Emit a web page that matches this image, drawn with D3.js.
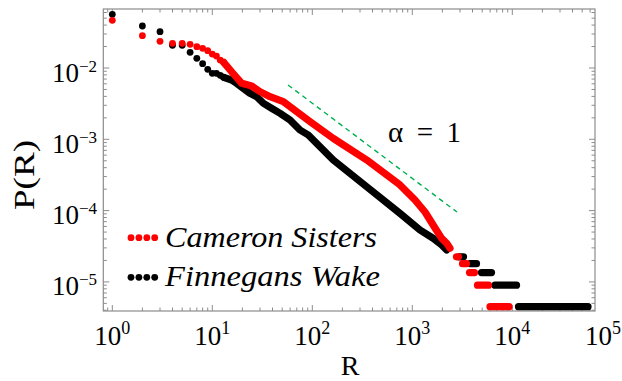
<!DOCTYPE html>
<html><head><meta charset="utf-8">
<script src="https://cdn.jsdelivr.net/npm/d3@7"></script>
<style>
body{margin:0;background:#fff}svg{display:block}
text{font-family:"Liberation Serif","Times New Roman","DejaVu Serif",serif;}
</style>
</head><body><svg id="c" width="622" height="381"></svg>
<script>
const seriesNames = ["Cameron Sisters", "Finnegans Wake"];
const seriesColors = ["#ff0000", "#000000"];

// Cameron Sisters (red)
const csTopRank = [1,2,3,4,5,6,7,8,9,10,11,12,13];
const csTopProb = [0.0467,0.0284,0.0237,0.0222,0.0222,0.0215,0.0199,0.0189,0.0175,0.0157,0.0147,0.0129,0.0120];
const csBandRank = [15.6,19.7,24.8,30,37.8,51.3,69.8,94.9,162,350,753,1064,1340,1687,1968,2208,2382];
const csBandProb = [8.87e-3,6.10e-3,5.59e-3,4.66e-3,3.96e-3,3.37e-3,2.44e-3,1.77e-3,1.03e-3,5.13e-4,2.29e-4,1.41e-4,9.56e-5,5.70e-5,4.08e-5,3.48e-5,2.96e-5];
const csRunProb = [2.25e-5,1.8e-5,1.35e-5,9.0e-6,4.5e-6];
const csRunFrom = [2767,3177,3733,4487,5984];
const csRunTo   = [2897,3483,4188,5781,9274];

// Finnegans Wake (black)
const fwTopRank = [1,2,3,4,5,6,7,8,9,10,11,12,13];
const fwTopProb = [0.0566,0.0388,0.0323,0.0208,0.0208,0.0166,0.01368,0.01149,9.59e-3,8.43e-3,8.43e-3,7.90e-3,7.41e-3];
const fwBandRank = [15.6,17.5,20.4,23.8,27.8,32.4,39.3,47.5,59.8,75.3,91.2,162,350,753,1194,1622,1968,2208];
const fwBandProb = [6.79e-3,6.10e-3,5.19e-3,4.41e-3,3.96e-3,3.20e-3,2.72e-3,2.32e-3,1.87e-3,1.35e-3,1.15e-3,5.13e-4,2.16e-4,9.16e-5,5.35e-5,4.08e-5,3.30e-5,2.80e-5];
const fwRunProb = [2.25e-5,1.8e-5,1.35e-5,9.0e-6,4.5e-6];
const fwRunFrom = [2931,3776,4920,6714,11530];
const fwRunTo   = [3251,4385,6194,11015,57150];

// reference power law (alpha = 1)
const refRank = [57.2, 2799];
const refProb = [5.78e-3, 9.55e-5];
const refLabel = "α = 1";

const xTickValues = [1,10,100,1000,10000,100000];
const xTickExps = ["0","1","2","3","4","5"];
const yTickValues = [1e-5,1e-4,1e-3,1e-2];
const yTickExps = ["−5","−4","−3","−2"];
const xTitle = "R", yTitle = "P(R)";

const svg = d3.select("#c");
const L = 103.3, Rgt = 595, T = 9, B = 311;
const x = d3.scaleLog().domain([Math.pow(10,-0.09), Math.pow(10,4.827)]).range([L, Rgt]);
const y = d3.scaleLog().domain([Math.pow(10,-5.408), Math.pow(10,-1.1725)]).range([B, T]);
const frameCol = "#8c8c8c";
const rad = 3.4, bandW = 7.2;

// frame
svg.append("rect").attr("x",L).attr("y",T).attr("width",Rgt-L).attr("height",B-T)
  .attr("fill","none").attr("stroke",frameCol).attr("stroke-width",1.2);

// ticks
const tickG = svg.append("g").attr("stroke",frameCol).attr("stroke-width",1);
function logTicks(dom){
  const out=[]; const lo=Math.floor(Math.log10(dom[0])), hi=Math.ceil(Math.log10(dom[1]));
  for(let e=lo;e<=hi;e++) for(let k=1;k<=9;k++){const v=k*Math.pow(10,e); if(v>=dom[0]&&v<=dom[1]) out.push({v,major:k===1});}
  return out;
}
logTicks(x.domain()).forEach(t=>{
  const len = t.major?6:3.5, px=x(t.v);
  tickG.append("line").attr("x1",px).attr("x2",px).attr("y1",B).attr("y2",B-len);
  tickG.append("line").attr("x1",px).attr("x2",px).attr("y1",T).attr("y2",T+len);
});
logTicks(y.domain()).forEach(t=>{
  const len = t.major?6:3.5, py=y(t.v);
  tickG.append("line").attr("y1",py).attr("y2",py).attr("x1",L).attr("x2",L+len);
  tickG.append("line").attr("y1",py).attr("y2",py).attr("x1",Rgt).attr("x2",Rgt-len);
});

// tick labels
xTickValues.forEach((v,i)=>{
  const px = Math.min(x(v), Rgt+8);
  const t = svg.append("text").attr("x",px).attr("y",345).attr("text-anchor","middle")
    .attr("font-size",27).attr("fill","#000");
  t.append("tspan").text("10");
  t.append("tspan").attr("dy",-11).attr("font-size",18).text(xTickExps[i]);
});
yTickValues.forEach((v,i)=>{
  const t = svg.append("text").attr("x",97).attr("y",y(v)+13.5).attr("text-anchor","end")
    .attr("font-size",27).attr("fill","#000");
  t.append("tspan").text("10");
  t.append("tspan").attr("dy",-10).attr("font-size",17).text(yTickExps[i]);
});

// axis titles
svg.append("text").attr("x",350).attr("y",375).attr("text-anchor","middle")
  .attr("font-size",28).text(xTitle);
svg.append("text").attr("transform","translate(34,175) rotate(-90)").attr("text-anchor","middle")
  .attr("font-size",30).attr("textLength",70).attr("lengthAdjust","spacingAndGlyphs").text(yTitle);

// reference line
const line = d3.line().x(d=>x(d[0])).y(d=>y(d[1]));
svg.append("path").datum(d3.zip(refRank, refProb)).attr("d",line)
  .attr("stroke","#00b050").attr("stroke-width",1.4).attr("stroke-dasharray","5,4").attr("fill","none");
svg.append("text").attr("x",388).attr("y",141.5).attr("font-size",29)
  .attr("textLength",73).attr("lengthAdjust","spacing").text(refLabel);

// series
const plot = svg.append("g");
function drawSeries(topR, topP, bandR, bandP, runP, runF, runT, col){
  const g = plot.append("g");
  const band = [[topR[topR.length-1], topP[topP.length-1]]].concat(d3.zip(bandR, bandP));
  g.append("path").datum(band).attr("d",line).attr("fill","none").attr("stroke",col)
    .attr("stroke-width",bandW).attr("stroke-linejoin","round").attr("stroke-linecap","round");
  g.selectAll("circle.top").data(d3.zip(topR, topP)).join("circle").attr("class","top")
    .attr("cx",d=>x(d[0])).attr("cy",d=>y(d[1])).attr("r",rad).attr("fill",col);
  g.selectAll("line.run").data(d3.zip(runP, runF, runT)).join("line").attr("class","run")
    .attr("x1",d=>x(d[1])).attr("x2",d=>x(d[2])).attr("y1",d=>y(d[0])).attr("y2",d=>y(d[0]))
    .attr("stroke",col).attr("stroke-width",bandW).attr("stroke-linecap","round");
}
drawSeries(fwTopRank, fwTopProb, fwBandRank, fwBandProb, fwRunProb, fwRunFrom, fwRunTo, seriesColors[1]);
drawSeries(csTopRank, csTopProb, csBandRank, csBandProb, csRunProb, csRunFrom, csRunTo, seriesColors[0]);

// legend
const legY = [237.7, 277.3], legBase = [246.7, 286];
seriesNames.forEach((n,i)=>{
  for(let k=0;k<4;k++) svg.append("circle").attr("cx",131+k*7.9).attr("cy",legY[i]).attr("r",rad).attr("fill",seriesColors[i]);
  svg.append("text").attr("x",165).attr("y",legBase[i]).attr("font-style","italic")
    .attr("font-size",29).attr("textLength", i===0?212:215).attr("lengthAdjust","spacingAndGlyphs").text(n);
});
</script></body></html>
